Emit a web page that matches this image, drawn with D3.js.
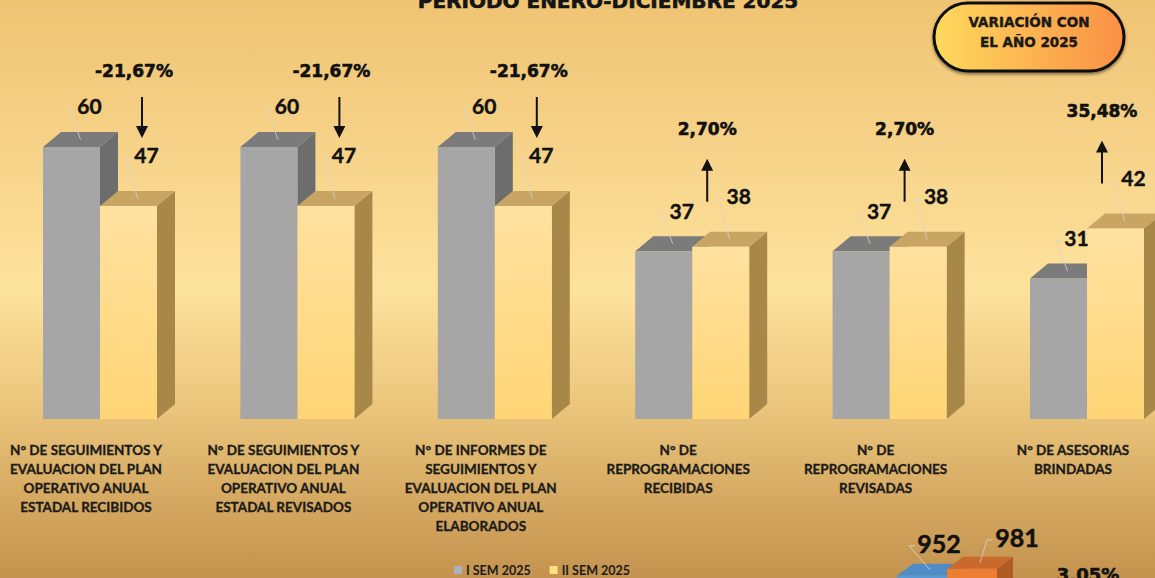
<!DOCTYPE html>
<html>
<head>
<meta charset="utf-8">
<script src="https://cdn.jsdelivr.net/npm/d3@7/dist/d3.min.js"></script>
<style>
  html, body { margin: 0; padding: 0; background: #e8c27a; }
  svg { display: block; }
</style>
</head>
<body>
<svg id="chart" width="1155" height="578"></svg>
<script>
// ---- data ----
const categories = ["segRecibidos", "segRevisados", "informes", "reproRecibidas", "reproRevisadas", "asesorias"];
const categoryLines = [
  ["N° DE SEGUIMIENTOS Y", "EVALUACION DEL PLAN", "OPERATIVO ANUAL", "ESTADAL RECIBIDOS"],
  ["N° DE SEGUIMIENTOS Y", "EVALUACION DEL PLAN", "OPERATIVO ANUAL", "ESTADAL REVISADOS"],
  ["N° DE INFORMES DE", "SEGUIMIENTOS Y", "EVALUACION DEL PLAN", "OPERATIVO ANUAL", "ELABORADOS"],
  ["N° DE", "REPROGRAMACIONES", "RECIBIDAS"],
  ["N° DE", "REPROGRAMACIONES", "REVISADAS"],
  ["N° DE ASESORIAS", "BRINDADAS"]
];
const series = ["I SEM 2025", "II SEM 2025"];
const sem1 = [60, 60, 60, 37, 37, 31];
const sem2 = [47, 47, 47, 38, 38, 42];

// totals of the following chart, only its top edge is on screen
const totalsSeries = ["I SEM 2025", "II SEM 2025"];
const totals = [952, 981];

const titleText = "PERIODO ENERO-DICIEMBRE 2025";
const badgeLines = ["VARIACIÓN CON", "EL AÑO 2025"];

// ---- setup ----
const W = 1155, H = 578;
const svg = d3.select("#chart");
const defs = svg.append("defs");

const bg = defs.append("linearGradient").attr("id", "bg").attr("x1", 0).attr("y1", 0).attr("x2", 0).attr("y2", 1);
[["0", "#efc473"], ["0.2", "#f5cf84"], ["0.5", "#fde29c"], ["0.7", "#ebc67c"], ["0.85", "#d7ab63"], ["1", "#c4934f"]]
  .forEach(([o, c]) => bg.append("stop").attr("offset", o).attr("stop-color", c));

const yellowFront = defs.append("linearGradient").attr("id", "yf").attr("x1", 0).attr("y1", 0).attr("x2", 0).attr("y2", 1);
yellowFront.append("stop").attr("offset", "0").attr("stop-color", "#ffe1a0");
yellowFront.append("stop").attr("offset", "1").attr("stop-color", "#ffd575");

const badgeGrad = defs.append("linearGradient").attr("id", "badge").attr("x1", 0).attr("y1", 0).attr("x2", 1).attr("y2", 0);
badgeGrad.append("stop").attr("offset", "0").attr("stop-color", "#fed95d");
badgeGrad.append("stop").attr("offset", "1").attr("stop-color", "#fb9045");

const shadow = defs.append("filter").attr("id", "shadow").attr("x", "-10%").attr("y", "-10%").attr("width", "120%").attr("height", "140%");
shadow.append("feDropShadow").attr("dx", 0).attr("dy", 2).attr("stdDeviation", 1.5).attr("flood-color", "#000").attr("flood-opacity", 0.45);

const arrowHead = defs.append("marker").attr("id", "head").attr("viewBox", "0 0 10 10")
  .attr("refX", 5).attr("refY", 5).attr("markerWidth", 6).attr("markerHeight", 7)
  .attr("markerUnits", "strokeWidth").attr("orient", "auto");
arrowHead.append("path").attr("d", "M0,0 L10,5 L0,10 Z").attr("fill", "#111");

svg.append("rect").attr("width", W).attr("height", H).attr("fill", "url(#bg)");

// ---- scales ----
const y = d3.scaleLinear().domain([0, 70]).range([419, 419 - 70 * 4.533]);
const x = d3.scaleBand().domain(categories).range([1.3, 1185.7]);
const barW = 57;
const xs = d3.scaleBand().domain(series).range([-barW, barW]);
const depthX = 18, depthY = 15;

const palettes = {
  "I SEM 2025": { front: "#a6a6a6", top: "#7b7b7b", side: "#6d6d6d" },
  "II SEM 2025": { front: "url(#yf)", top: "#c8a562", side: "#a78849" }
};

const rows = categories.map((c, i) => ({ c, i, vals: [sem1[i], sem2[i]] }));
const center = c => x(c) + x.bandwidth() / 2;

// front face, top face and right side of a box bar
function bar3d(g, x0, w, yTop, yBase, dx, dy, col) {
  g.append("path")
    .attr("d", `M${x0 + w},${yTop} L${x0 + w + dx},${yTop - dy} L${x0 + w + dx},${yBase - dy} L${x0 + w},${yBase} Z`)
    .attr("fill", col.side);
  g.append("path")
    .attr("d", `M${x0},${yTop} L${x0 + dx},${yTop - dy} L${x0 + w + dx},${yTop - dy} L${x0 + w},${yTop} Z`)
    .attr("fill", col.top);
  g.append("rect").attr("x", x0).attr("y", yTop).attr("width", w).attr("height", yBase - yTop)
    .attr("fill", col.front);
}

// heavy lettering: bold face thickened with a thin stroke of the same colour
const heavy = (sel, w) => sel.attr("stroke", "#111").attr("stroke-width", w).attr("paint-order", "stroke");

// ---- title ----
heavy(svg.append("text").attr("x", 608).attr("y", 8).attr("text-anchor", "middle")
  .attr("font-family", "DejaVu Sans").attr("font-weight", 700).attr("font-size", 20)
  .attr("fill", "#151515").text(titleText), 0.6);

// ---- bars ----
const barsG = svg.append("g");
rows.forEach(r => {
  const g = barsG.append("g");
  series.forEach((s, k) => {
    const x0 = center(r.c) + xs(s);
    bar3d(g, x0, xs.bandwidth(), y(r.vals[k]), y(0), depthX, depthY, palettes[s]);
  });
});

// ---- value labels with leader lines ----
const labelLift = { "I SEM 2025": 40, "II SEM 2025": 50 };
rows.forEach(r => {
  series.forEach((s, k) => {
    const v = r.vals[k];
    const x0 = center(r.c) + xs(s);
    const fx = x0 + xs.bandwidth() / 2 + depthX / 2;
    const fy = y(v) - depthY / 2;
    const lx = x0 + xs.bandwidth() / 2 + 18;
    const ly = y(v) - labelLift[s];
    svg.append("polyline")
      .attr("points", `${fx},${fy} ${lx - 20},${ly + 2} ${lx - 14},${ly + 2}`)
      .attr("fill", "none").attr("stroke", "#d9d4c8").attr("stroke-opacity", 0.8).attr("stroke-width", 1);
    heavy(svg.append("text").attr("x", lx).attr("y", ly).attr("dy", "0.35em").attr("text-anchor", "middle")
      .attr("font-family", "Lato").attr("font-weight", 700).attr("font-size", 21)
      .attr("fill", "#111").text(v), 0.4);
  });
});

// ---- variation arrows and percentages ----
const pctFmt = v => (v >= 0 ? "" : "-") + Math.abs(v * 100).toFixed(2).replace(".", ",") + "%";
rows.forEach(r => {
  const [a, b] = r.vals;
  const change = (b - a) / a;
  const yMax = y(Math.max(a, b));
  const down = change < 0;
  const ax = center(r.c) + (down ? 42 : 15);
  let yStart, yEnd, ty;
  if (down) { yStart = yMax - 50; yEnd = yMax - 5; ty = yStart - 26; }
  else { yStart = yMax - 45; yEnd = yStart - 47; ty = yEnd - 26; }
  svg.append("line").attr("x1", ax).attr("y1", yStart).attr("x2", ax).attr("y2", yEnd - (down ? 10 : -10))
    .attr("stroke", "#111").attr("stroke-width", 2).attr("marker-end", "url(#head)");
  heavy(svg.append("text").attr("x", ax - (down ? 8 : 0)).attr("y", ty).attr("dy", "0.35em").attr("text-anchor", "middle")
    .attr("font-family", "DejaVu Sans").attr("font-weight", 700).attr("font-size", 17)
    .attr("fill", "#111").text(pctFmt(change)), 0.6);
});

// ---- category labels ----
rows.forEach(r => {
  const t = svg.append("text").attr("text-anchor", "middle")
    .attr("font-family", "Lato").attr("font-weight", 700).attr("font-size", 13.5).attr("fill", "#1b1b1b");
  categoryLines[r.i].forEach((line, j) => {
    t.append("tspan").attr("x", center(r.c) - 14).attr("y", 455 + j * 19).text(line);
  });
  heavy(t, 0.3);
});

// ---- legend ----
const legendColors = { "I SEM 2025": "#aeb0c0", "II SEM 2025": "#ffe184" };
const legend = svg.append("g").attr("transform", "translate(454,571)");
let lxPos = 0;
series.forEach(s => {
  legend.append("rect").attr("x", lxPos).attr("y", -5).attr("width", 8).attr("height", 8).attr("fill", legendColors[s]);
  const t = legend.append("text").attr("x", lxPos + 12).attr("y", 0).attr("dy", "0.35em")
    .attr("font-family", "Lato").attr("font-weight", 700).attr("font-size", 12.5).attr("fill", "#1b1b1b").text(s);
  lxPos += 12 + t.node().getComputedTextLength() + 19;
});

// ---- badge ----
const badge = svg.append("g");
badge.append("rect").attr("x", 934).attr("y", 3).attr("width", 190).attr("height", 68).attr("rx", 34)
  .attr("fill", "url(#badge)").attr("stroke", "#111").attr("stroke-width", 3).attr("filter", "url(#shadow)");
badgeLines.forEach((l, j) => {
  heavy(badge.append("text").attr("x", 1029).attr("y", 22 + j * 20).attr("dy", "0.35em").attr("text-anchor", "middle")
    .attr("font-family", "DejaVu Sans").attr("font-weight", 700).attr("font-size", 13.5)
    .attr("fill", "#1a1a1a").text(l), 0.4);
});

// ---- totals chart ----
const yT = d3.scaleLinear().domain([0, 1000]).range([805.6, 805.6 - 1000 * 0.2414]);
const xT = d3.scaleBand().domain(totalsSeries).range([897, 997]);
const totalsPal = {
  "I SEM 2025": { front: "#5b9bd5", top: "#4f8cc6", side: "#3f74a8" },
  "II SEM 2025": { front: "#ed7d31", top: "#c9692b", side: "#b05a24" }
};
const totG = svg.append("g");
totalsSeries.forEach((s, k) => {
  bar3d(totG, xT(s), xT.bandwidth(), yT(totals[k]), yT(0), 16, 12, totalsPal[s]);
});
const totLabelPos = [[2, -32], [30, -31]];
totalsSeries.forEach((s, k) => {
  const cx = xT(s) + xT.bandwidth() / 2;
  const fx = cx + 8, fy = yT(totals[k]) - 6;
  const lx = cx + totLabelPos[k][0] + 15, ly = yT(totals[k]) + totLabelPos[k][1];
  totG.append("polyline").attr("points", `${fx},${fy} ${lx - 30},${ly + 2} ${lx - 24},${ly + 2}`)
    .attr("fill", "none").attr("stroke", "#d9d4c8").attr("stroke-opacity", 0.8).attr("stroke-width", 1);
  heavy(totG.append("text").attr("x", lx).attr("y", ly).attr("dy", "0.35em").attr("text-anchor", "middle")
    .attr("font-family", "Lato").attr("font-weight", 700).attr("font-size", 25).attr("fill", "#111").text(totals[k]), 0.5);
});
const totChange = (totals[1] - totals[0]) / totals[0];
heavy(svg.append("text").attr("x", 1088).attr("y", 581).attr("text-anchor", "middle")
  .attr("font-family", "DejaVu Sans").attr("font-weight", 700).attr("font-size", 18)
  .attr("fill", "#111").text(pctFmt(totChange)), 0.6);
</script>
</body>
</html>
